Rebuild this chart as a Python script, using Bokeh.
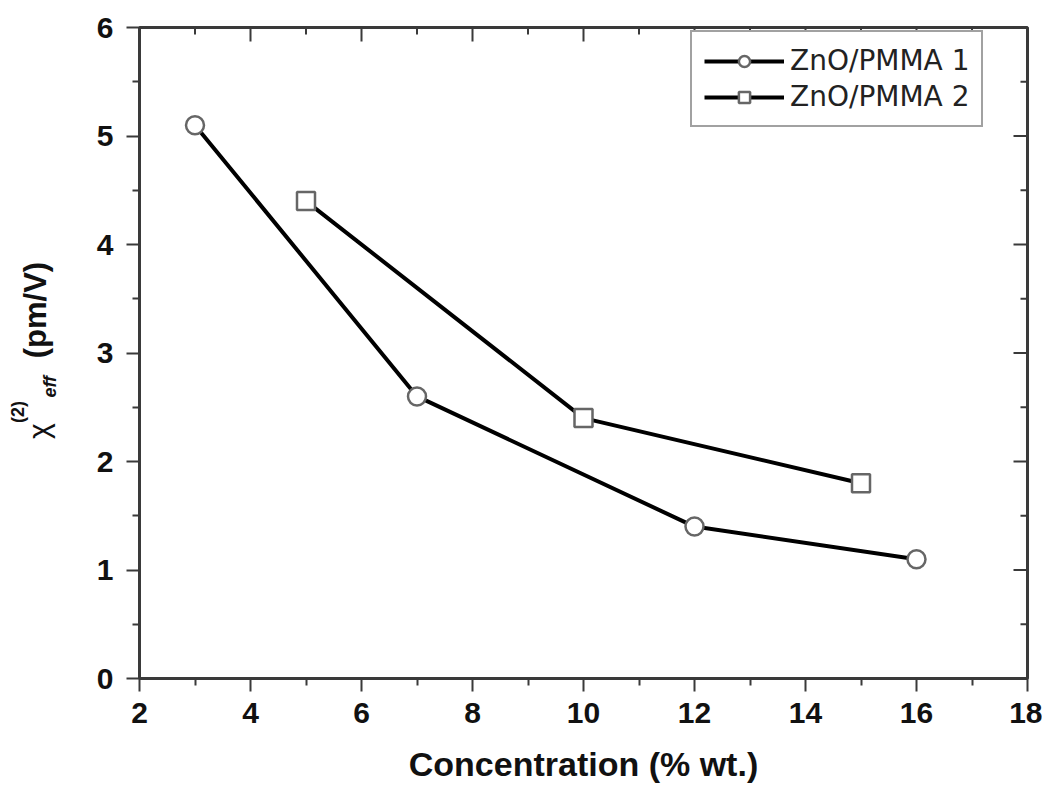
import math
from bokeh.plotting import figure
from bokeh.layouts import row
from bokeh.models import (LinearAxis, Range1d, Legend, LegendItem, FixedTicker)
from bokeh.core.properties import value
from bokeh.embed import file_html
from bokeh.resources import INLINE

# ---- data ----
conc_1 = [3, 7, 12, 16]
chi_1 = [5.1, 2.6, 1.4, 1.1]
conc_2 = [5, 10, 15]
chi_2 = [4.4, 2.4, 1.8]
series_names = ["ZnO/PMMA 1", "ZnO/PMMA 2"]
x_ticks = [2, 4, 6, 8, 10, 12, 14, 16, 18]
x_minor = [3, 5, 7, 9, 11, 13, 15, 17]
y_ticks = [0, 1, 2, 3, 4, 5, 6]
y_minor = [0.5, 1.5, 2.5, 3.5, 4.5, 5.5]
x_label = "Concentration (% wt.)"

AX = "#3a3a3a"
FONT = "Liberation Sans"
TOTAL_H = 794
LEFT_W = 70
FRAME_TOP = 27
FRAME_H = 651

p = figure(frame_width=888, frame_height=FRAME_H, output_backend="svg", toolbar_location=None,
           x_range=Range1d(x_ticks[0], x_ticks[-1]), y_range=Range1d(y_ticks[0], y_ticks[-1]),
           min_border_left=139 - LEFT_W, min_border_right=15, min_border_top=FRAME_TOP,
           min_border_bottom=110, x_axis_type=None, y_axis_type=None)
p.xgrid.visible = False
p.ygrid.visible = False
p.outline_line_color = AX
p.outline_line_width = 3
p.background_fill_color = "white"
p.border_fill_color = "white"


def style(ax):
    ax.axis_line_color = AX
    ax.axis_line_width = 3
    ax.major_tick_line_color = AX
    ax.minor_tick_line_color = AX
    ax.major_tick_line_width = 2
    ax.minor_tick_line_width = 2
    ax.major_tick_in = 0
    ax.major_tick_out = 13
    ax.minor_tick_in = 0
    ax.minor_tick_out = 7
    ax.major_label_text_font = FONT
    ax.major_label_text_font_style = "bold"
    ax.major_label_text_font_size = "30px"
    ax.major_label_text_color = "#111111"


xb = LinearAxis(ticker=FixedTicker(ticks=x_ticks, minor_ticks=x_minor))
style(xb)
xb.major_label_standoff = 11
xb.axis_label = x_label
xb.axis_label_text_font = FONT
xb.axis_label_text_font_style = "bold"
xb.axis_label_text_font_size = "34px"
xb.axis_label_text_color = "#111111"
xb.axis_label_standoff = 19
p.add_layout(xb, "below")

yl = LinearAxis(ticker=FixedTicker(ticks=y_ticks, minor_ticks=y_minor))
style(yl)
yl.major_label_standoff = 13
p.add_layout(yl, "left")

# mirrored inward ticks on top and right edges (half of each dash is clipped by the frame)
top_y = y_ticks[-1]
right_x = x_ticks[-1]
p.scatter(x_ticks, [top_y] * len(x_ticks), marker="dash", angle=math.pi / 2, size=28,
          line_color=AX, line_width=2)
p.scatter(x_minor, [top_y] * len(x_minor), marker="dash", angle=math.pi / 2, size=14,
          line_color=AX, line_width=2)
p.scatter([right_x] * len(y_ticks), y_ticks, marker="dash", size=28,
          line_color=AX, line_width=2)
p.scatter([right_x] * len(y_minor), y_minor, marker="dash", size=14,
          line_color=AX, line_width=2)

# ---- series ----
l1 = p.line(conc_1, chi_1, line_color="black", line_width=4)
m1 = p.scatter(conc_1, chi_1, marker="circle", size=18, fill_color="white",
               line_color="#666666", line_width=2.5)
l2 = p.line(conc_2, chi_2, line_color="black", line_width=4)
m2 = p.scatter(conc_2, chi_2, marker="square", size=18, fill_color="white",
               line_color="#666666", line_width=2.5)

legend = Legend(items=[LegendItem(label=series_names[0], renderers=[l1, m1]),
                       LegendItem(label=series_names[1], renderers=[l2, m2])],
                location=(551, 551))
legend.glyph_width = 80
legend.glyph_height = 28
legend.spacing = 3
legend.padding = 12
legend.margin = 0
legend.label_standoff = 6
legend.label_text_font = "DejaVu Sans"
legend.label_text_font_size = "28px"
legend.label_text_color = "#222222"
legend.border_line_color = "#444444"
legend.border_line_width = 2
legend.background_fill_alpha = 1
p.add_layout(legend, "center")

# ---- y axis label (chi^(2)_eff (pm/V)) in a narrow side figure ----
# the row aligns this figure's frame with the main frame, so the y range is
# chosen to equal page pixel rows (frame spans FRAME_TOP .. FRAME_TOP + FRAME_H)
q = figure(width=LEFT_W, height=TOTAL_H, output_backend="svg", toolbar_location=None,
           x_range=Range1d(0, LEFT_W), y_range=Range1d(FRAME_TOP + FRAME_H, FRAME_TOP),
           min_border=0, x_axis_type=None, y_axis_type=None)
q.outline_line_color = None
q.background_fill_color = "white"
q.border_fill_color = "white"
ang = math.pi / 2
q.text(x=[38], y=[427], text=["χ"], angle=ang, text_font=value(FONT),
       text_font_size="30px", text_color="#111111", text_align="center",
       text_baseline="middle")
q.text(x=[17], y=[408], text=["(2)"], angle=ang, text_font=value(FONT),
       text_font_style="bold", text_font_size="18px", text_color="#111111",
       text_align="center", text_baseline="middle")
q.text(x=[49], y=[383], text=["eff"], angle=ang, text_font=value(FONT),
       text_font_style="bold italic", text_font_size="18px", text_color="#111111",
       text_align="center", text_baseline="middle")
q.text(x=[35], y=[307], text=["(pm/V)"], angle=ang, text_font=value(FONT),
       text_font_style="bold", text_font_size="31px", text_color="#111111",
       text_align="center", text_baseline="middle")

layout = row(q, p)
open("out.html", "w").write(file_html(layout, INLINE))
